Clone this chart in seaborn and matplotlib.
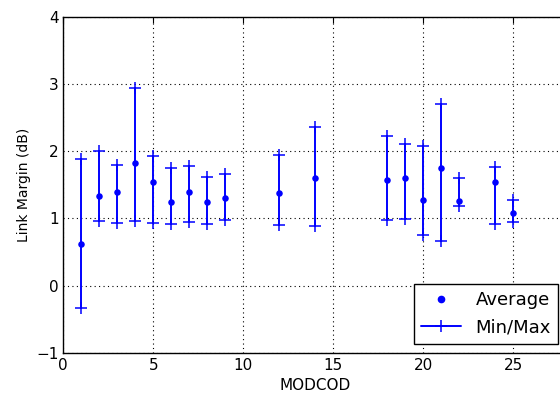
import matplotlib
matplotlib.use("Agg")
import matplotlib.pyplot as plt
import seaborn as sns
import pandas as pd
from matplotlib.lines import Line2D

modcod = [1, 2, 3, 4, 5, 6, 7, 8, 9, 12, 14, 18, 19, 20, 21, 22, 24, 25]
avg_margin = [0.62, 1.33, 1.40, 1.83, 1.545, 1.24, 1.395, 1.25, 1.30, 1.38, 1.60, 1.575, 1.60, 1.27, 1.745, 1.26, 1.545, 1.08]
min_margin = [-0.33, 0.96, 0.93, 0.96, 0.93, 0.915, 0.94, 0.915, 0.975, 0.905, 0.88, 0.975, 0.985, 0.755, 0.66, 1.18, 0.91, 0.945]
max_margin = [1.88, 2.01, 1.80, 2.94, 1.93, 1.745, 1.785, 1.62, 1.66, 1.95, 2.355, 2.225, 2.115, 2.085, 2.71, 1.60, 1.765, 1.28]

sns.set_style("white")
plt.rcParams.update({
    "font.family": ["DejaVu Sans"],
    "font.size": 12,
    "text.color": "black",
    "axes.labelcolor": "black",
    "xtick.direction": "in",
    "ytick.direction": "in",
    "xtick.top": True,
    "ytick.right": True,
    "xtick.major.size": 4,
    "ytick.major.size": 4,
    "xtick.color": "black",
    "ytick.color": "black",
    "axes.edgecolor": "black",
    "axes.linewidth": 1.0,
})

fig = plt.figure(figsize=(5.6, 3.94), dpi=100)
ax = fig.add_axes([63.3 / 560, 1 - 352.7 / 394, (567 - 63.3) / 560, (352.7 - 17) / 394])

df_avg = pd.DataFrame({"MODCOD": modcod, "avg": avg_margin})
df_rng = pd.DataFrame({
    "MODCOD": modcod * 2,
    "val": min_margin + max_margin,
})

sns.lineplot(data=df_rng, x="MODCOD", y="val", units="MODCOD", estimator=None,
             color="blue", marker="+", markersize=8, markeredgewidth=1.1,
             markeredgecolor="blue", markerfacecolor="blue",
             linewidth=1.4, ax=ax, legend=False)
sns.scatterplot(data=df_avg, x="MODCOD", y="avg", color="blue", s=22,
                edgecolor="blue", linewidth=0, ax=ax, legend=False, zorder=3)

ax.set_xlim(0, 28)
ax.set_ylim(-1, 4)
ax.set_xticks([0, 5, 10, 15, 20, 25])
ax.set_yticks([-1, 0, 1, 2, 3, 4])
ax.grid(True, color="black", linestyle=(0, (1, 3)), linewidth=0.8)
ax.set_xlabel("MODCOD", fontsize=11, color="black")
ax.set_ylabel("Link Margin (dB)", fontsize=10, color="black")
ax.tick_params(labelsize=11, labelcolor="black")
for s in ax.spines.values():
    s.set_color("black")
    s.set_visible(True)

handles = [
    Line2D([], [], color="blue", marker=".", linestyle="none", markersize=9),
    Line2D([], [], color="blue", marker="+", markersize=8, markeredgewidth=1.1, linewidth=1.4),
]
leg = ax.legend(handles, ["Average", "Min/Max"], loc="lower right", numpoints=1,
                fontsize=13, fancybox=False, framealpha=1, edgecolor="black",
                borderaxespad=0.5, handlelength=2.2)
leg.get_frame().set_linewidth(1.0)
for t in leg.get_texts():
    t.set_color("black")

fig.savefig("out.png", dpi=100)
